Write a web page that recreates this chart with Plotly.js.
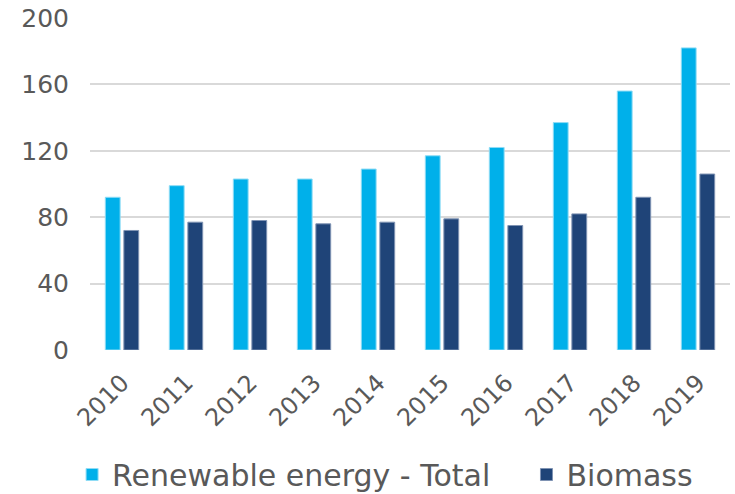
<!DOCTYPE html>
<html>
<head>
<meta charset="utf-8">
<script src="https://cdn.plot.ly/plotly-3.0.1.min.js"></script>
<style>html,body{margin:0;padding:0;background:#fff;}#chart{width:735px;height:494px;}</style>
</head>
<body>
<div id="chart"></div>
<script>
var years = ['2010','2011','2012','2013','2014','2015','2016','2017','2018','2019'];
var renewableTotal = [92, 99, 103, 103, 109, 117, 122, 137, 156, 182];
var biomass = [72, 77, 78, 76, 77, 79, 75, 82, 92, 106];
var yTicks = [0, 40, 80, 120, 160, 200];

var traces = [
  {type:'bar', name:'Renewable energy - Total', x:years, y:renewableTotal, legend:'legend',
   marker:{color:'#00B0EA', line:{color:'#8fdcf5', width:1}}},
  {type:'bar', name:'Biomass', x:years, y:biomass, legend:'legend2',
   marker:{color:'#1F4478', line:{color:'#7f93b3', width:1}}}
];
var font = '"DejaVu Sans", sans-serif';
var legFont = {size:30, color:'#595959'};
var layout = {
  width:735, height:494,
  margin:{l:90, r:5, t:18, b:144, autoexpand:false},
  paper_bgcolor:'#fff', plot_bgcolor:'#fff',
  barmode:'group', bargap:0.42, bargroupgap:0.2,
  font:{family:font, color:'#595959', size:24},
  xaxis:{type:'category', tickangle:-45, showgrid:false, zeroline:false, showline:false, ticks:'',
         automargin:false, ticklabelstandoff:13, tickfont:{size:24, color:'#595959'}},
  yaxis:{range:[0,200], tickvals:yTicks, showgrid:true, gridcolor:'#d9d9d9', gridwidth:2,
         automargin:false, zeroline:false, showline:false, ticks:'', ticklen:0,
         ticklabelstandoff:20, tickfont:{size:25, color:'#595959'}},
  showlegend:true,
  legend:{orientation:'h', x:-0.028, xanchor:'left', y:-0.375, yanchor:'middle',
          font:legFont, itemwidth:30},
  legend2:{orientation:'h', x:0.682, xanchor:'left', y:-0.375, yanchor:'middle',
          font:legFont, itemwidth:30}
};
Plotly.newPlot('chart', traces, layout, {displayModeBar:false, staticPlot:true});
</script>
</body>
</html>
